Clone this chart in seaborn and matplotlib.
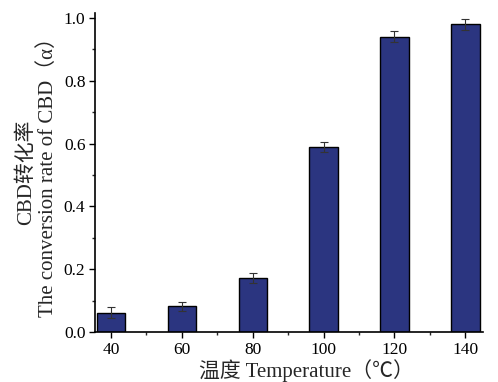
import matplotlib
matplotlib.use("Agg")
import matplotlib.pyplot as plt
import seaborn as sns
import pandas as pd
from matplotlib.ticker import MultipleLocator

temperatures = [40, 60, 80, 100, 120, 140]
conversion = [0.061, 0.082, 0.171, 0.590, 0.940, 0.980]
errors = [0.018, 0.015, 0.016, 0.016, 0.018, 0.017]
x_ticks = [40, 60, 80, 100, 120, 140]
y_ticks = [0.0, 0.2, 0.4, 0.6, 0.8, 1.0]

sns.set_theme(style="ticks")
plt.rcParams['font.family'] = ['Liberation Serif', 'Noto Sans CJK SC']

df = pd.DataFrame({"T": temperatures, "rate": conversion})

fig = plt.figure(figsize=(4.98, 3.82), dpi=100)
ax = fig.add_axes([0.191, 0.131, 0.779, 0.835])

sns.barplot(data=df, x="T", y="rate", native_scale=True, width=0.4,
            color="#2b3580", saturation=1, edgecolor="black", linewidth=1.0,
            errorbar=None, ax=ax)
ax.errorbar(temperatures, conversion, yerr=errors, fmt="none",
            ecolor="#333333", elinewidth=0.8, capsize=3, capthick=0.8)

ax.set_xlim(35.5, 145)
ax.set_ylim(0, 1.016)
ax.set_xticks(x_ticks)
ax.set_xticklabels([str(t) for t in x_ticks])
ax.set_yticks(y_ticks)
ax.set_yticklabels([f"{v:.1f}" for v in y_ticks])
ax.xaxis.set_minor_locator(MultipleLocator(10))
ax.yaxis.set_minor_locator(MultipleLocator(0.1))
ax.tick_params(which="major", direction="out", length=4.5, width=1, labelsize=12.5, colors="black", pad=2.5)
ax.tick_params(which="minor", direction="out", length=2.5, width=1)

for s in ["top", "right"]:
    ax.spines[s].set_visible(False)
for s in ["left", "bottom"]:
    ax.spines[s].set_linewidth(1.2)
    ax.spines[s].set_color("black")

ax.set_xlabel("温度 Temperature（℃）", fontsize=15, labelpad=0)
ax.xaxis.set_label_coords(0.545, -0.085)
ax.set_ylabel("CBD转化率\nThe conversion rate of CBD（α）", fontsize=15, labelpad=4, linespacing=1.15)

fig.savefig("out.png", dpi=100)
